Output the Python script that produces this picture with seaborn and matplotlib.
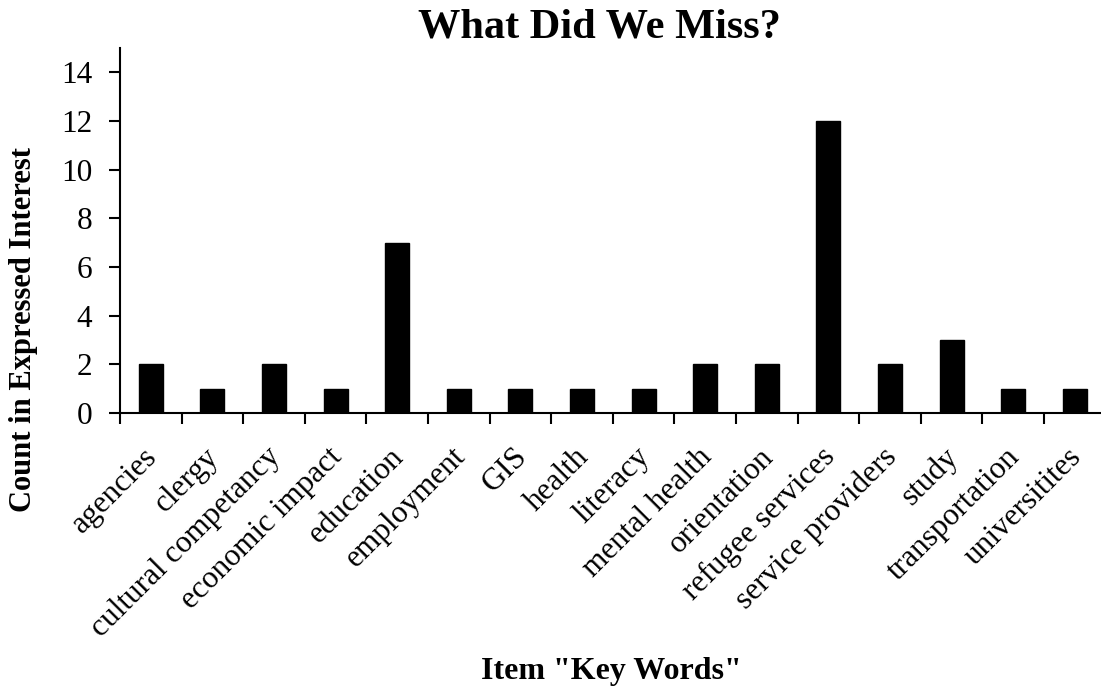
import matplotlib
matplotlib.use("Agg")
import matplotlib.pyplot as plt
import matplotlib.transforms as mtransforms
import seaborn as sns
import pandas as pd

categories = ["agencies", "clergy", "cultural competancy", "economic impact",
              "education", "employment", "GIS", "health", "literacy",
              "mental health", "orientation", "refugee services",
              "service providers", "study", "transportation", "universitites"]
counts = [2, 1, 2, 1, 7, 1, 1, 1, 1, 2, 2, 12, 2, 3, 1, 1]
y_ticks = [0, 2, 4, 6, 8, 10, 12, 14]

sns.set_theme(style="ticks")
plt.rcParams['font.family'] = ['Liberation Serif', 'DejaVu Serif']
plt.rcParams['text.color'] = 'black'
plt.rcParams['xtick.color'] = 'black'
plt.rcParams['ytick.color'] = 'black'
plt.rcParams['axes.labelcolor'] = 'black'

df = pd.DataFrame({"cat": categories, "count": counts})

W, H = 1101, 694
fig = plt.figure(figsize=(W / 100, H / 100), dpi=100)
ax = fig.add_axes([120 / W, 1 - 413 / H, 985.6 / W, 365 / H])

sns.barplot(data=df, x="cat", y="count", color="black", width=0.39,
            saturation=1, ax=ax)
for p in ax.patches:
    p.set_edgecolor("black")

ax.set_xlim(-0.5, len(categories) - 0.5)
ax.set_ylim(0, 15)
ax.set_yticks(y_ticks)
ax.set_yticklabels([str(v) for v in y_ticks], fontsize=22.5, color="black")
ax.set_xticks([i - 0.5 for i in range(len(categories))])
ax.set_xticklabels([])
ax.set_xticks(range(len(categories)), minor=True)
ax.set_xticklabels(categories, minor=True, rotation=45, ha="right",
                   rotation_mode="anchor", fontsize=22.5, color="black")
ax.tick_params(axis="x", which="minor", length=0, pad=16)
ax.tick_params(axis="x", which="major", length=8, width=1.5, direction="out", color="black")
ax.tick_params(axis="y", length=8, width=1.5, direction="out", color="black", pad=12)
shift = mtransforms.ScaledTranslation(-8 / 100, -7 / 100, fig.dpi_scale_trans)
for lbl in ax.get_xticklabels(minor=True):
    lbl.set_transform(lbl.get_transform() + shift)
for s in ["top", "right"]:
    ax.spines[s].set_visible(False)
for s in ["left", "bottom"]:
    ax.spines[s].set_color("black")
    ax.spines[s].set_linewidth(1.5)

ax.set_xlabel("")
ax.set_ylabel("")
fig.text(599 / W, 1 - 27 / H, "What Did We Miss?", ha="center", va="center",
         fontsize=30.5, fontweight="bold", color="black")
fig.text(611 / W, 1 - 672 / H, 'Item "Key Words"', ha="center", va="center",
         fontsize=23, fontweight="bold", color="black")
fig.text(24 / W, 1 - 329 / H, "Count in Expressed Interest", ha="center", va="center",
         rotation=90, fontsize=22, fontweight="bold", color="black")

fig.savefig("out.png", dpi=100)
